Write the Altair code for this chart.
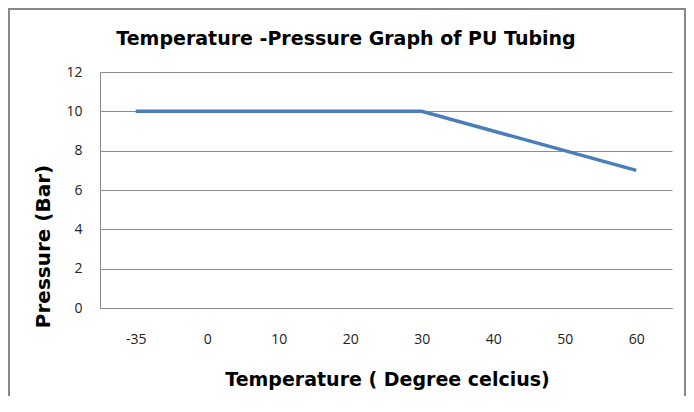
import altair as alt
import pandas as pd

temps = ["-35", "0", "10", "20", "30", "40", "50", "60"]
pressure = [10, 10, 10, 10, 10, 9, 8, 7]
title_text = "Temperature -Pressure Graph of PU Tubing"

df = pd.DataFrame({"Temperature": temps, "Pressure": pressure})

W, H = 572, 236

border = alt.Chart(pd.DataFrame({"a": [0]})).mark_rect(
    fill=None, filled=False, stroke="#888888", strokeWidth=2, clip=False
).encode(
    x=alt.value(-91), x2=alt.value(585), y=alt.value(-63), y2=alt.value(360)
)

title = alt.Chart(pd.DataFrame({"t": [title_text]})).mark_text(
    align="center", baseline="alphabetic", font="DejaVu Sans", fontSize=19,
    fontWeight="bold", color="black", clip=False
).encode(
    x=alt.value(246), y=alt.value(-27), text="t:N"
)

line = alt.Chart(df).mark_line(color="#4a7ebb", strokeWidth=3.5).encode(
    x=alt.X("Temperature:O", sort=temps,
            scale=alt.Scale(type="point", padding=0.5),
            axis=alt.Axis(title="Temperature ( Degree celcius)", labelAngle=0,
                          grid=False, ticks=False, domain=True,
                          domainColor="#888888", labelPadding=24,
                          labelFont="Open Sans", labelFontSize=14, labelColor="#222222",
                          titleFont="DejaVu Sans", titleFontSize=19, titleFontWeight="bold",
                          titleColor="black", titleX=287, titleY=71,
                          titleAlign="center", titleBaseline="middle")),
    y=alt.Y("Pressure:Q",
            scale=alt.Scale(domain=[0, 12]),
            axis=alt.Axis(title="Pressure (Bar)", values=[0, 2, 4, 6, 8, 10, 12],
                          grid=True, gridColor="#8c8c8c", ticks=False,
                          domain=True, domainColor="#888888", labelPadding=18,
                          labelFont="Open Sans", labelFontSize=14, labelColor="#222222",
                          titleFont="DejaVu Sans", titleFontSize=20, titleFontWeight="bold",
                          titleColor="black", titleAngle=270, titleX=-57, titleY=174,
                          titleAlign="center", titleBaseline="middle")),
)

chart = alt.layer(border, title, line).properties(
    width=W, height=H,
    autosize=alt.AutoSizeParams(type="none"),
    padding={"left": 92, "top": 64, "right": 14, "bottom": 88},
).configure_view(stroke=None)

chart.save("out.html", embed_options={"renderer": "svg", "actions": False})
